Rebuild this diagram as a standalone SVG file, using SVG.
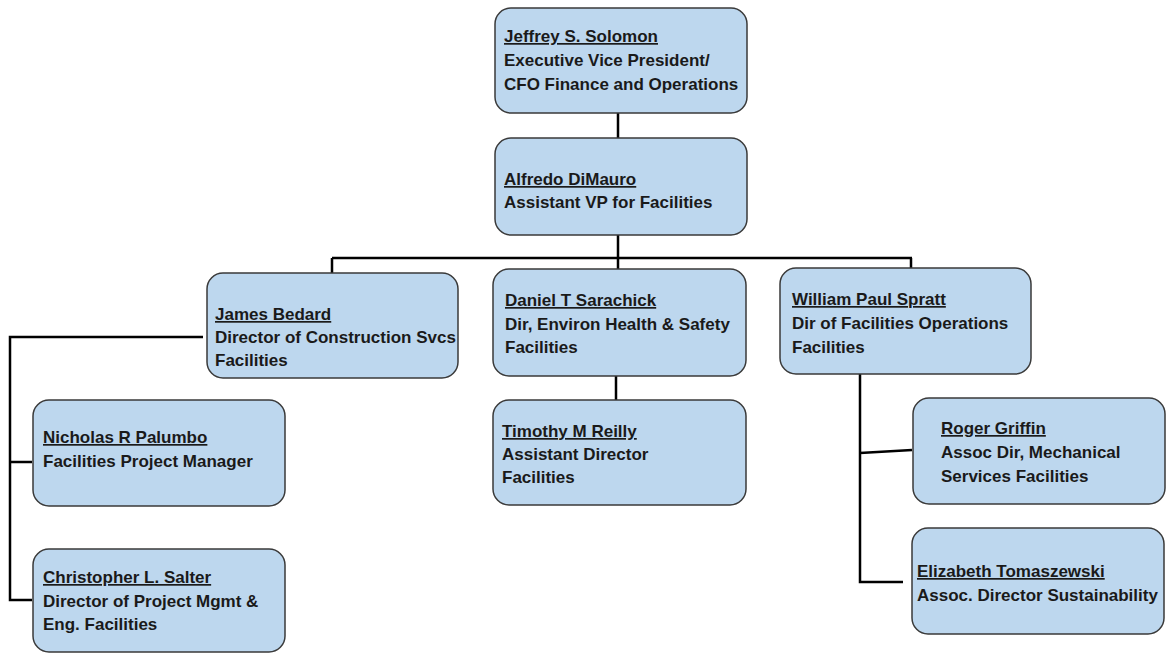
<svg xmlns="http://www.w3.org/2000/svg" width="1167" height="653" viewBox="0 0 1167 653">
<style>
.box{fill:#BDD7EE;stroke:#3a3a3a;stroke-width:1.5}
.t{font-family:"Liberation Sans",Arial,sans-serif;font-size:17px;font-weight:bold;fill:#1a1a1a}
.n{text-decoration:underline}
.c{stroke:#000;stroke-width:2.5;fill:none}
</style>
<rect width="1167" height="653" fill="#fff"/>
<g id="connectors">
<path class="c" d="M618 113V138M618 235V258M332 258H912M332 258V273M618 258V269M911 258V268"/>
<path class="c" d="M203 337H10V600H32M10 462H32"/>
<path class="c" d="M616 376V400"/>
<path class="c" d="M860 374V582H903M860 453L912 450"/>
</g>
<g id="jeffrey"><rect class="box" x="495" y="8" width="252" height="105" rx="16"/>
<text class="t" x="504"><tspan class="n" y="42">Jeffrey S. Solomon</tspan><tspan x="504" y="66">Executive Vice President/</tspan><tspan x="504" y="90">CFO Finance and Operations</tspan></text></g>
<g id="alfredo"><rect class="box" x="495" y="138" width="252" height="97" rx="16"/>
<text class="t" x="504"><tspan class="n" y="185">Alfredo DiMauro</tspan><tspan x="504" y="208">Assistant VP for Facilities</tspan></text></g>
<g id="james"><rect class="box" x="207" y="273" width="251" height="105" rx="16"/>
<text class="t" x="215"><tspan class="n" y="320">James Bedard</tspan><tspan x="215" y="343">Director of Construction Svcs</tspan><tspan x="215" y="366">Facilities</tspan></text></g>
<g id="daniel"><rect class="box" x="493" y="269" width="253" height="107" rx="16"/>
<text class="t" x="505"><tspan class="n" y="306">Daniel T Sarachick</tspan><tspan x="505" y="330">Dir, Environ Health &amp; Safety</tspan><tspan x="505" y="353">Facilities</tspan></text></g>
<g id="william"><rect class="box" x="780" y="268" width="251" height="106" rx="16"/>
<text class="t" x="792"><tspan class="n" y="305">William Paul Spratt</tspan><tspan x="792" y="329">Dir of Facilities Operations</tspan><tspan x="792" y="353">Facilities</tspan></text></g>
<g id="nicholas"><rect class="box" x="33" y="400" width="252" height="106" rx="16"/>
<text class="t" x="43"><tspan class="n" y="443">Nicholas R Palumbo</tspan><tspan x="43" y="467">Facilities Project Manager</tspan></text></g>
<g id="christopher"><rect class="box" x="33" y="549" width="252" height="103" rx="16"/>
<text class="t" x="43"><tspan class="n" y="583">Christopher L. Salter</tspan><tspan x="43" y="607">Director of Project Mgmt &amp;</tspan><tspan x="43" y="630">Eng. Facilities</tspan></text></g>
<g id="timothy"><rect class="box" x="493" y="400" width="253" height="105" rx="16"/>
<text class="t" x="502"><tspan class="n" y="437">Timothy M Reilly</tspan><tspan x="502" y="460">Assistant Director</tspan><tspan x="502" y="483">Facilities</tspan></text></g>
<g id="roger"><rect class="box" x="913" y="398" width="252" height="106" rx="16"/>
<text class="t" x="941"><tspan class="n" y="434">Roger Griffin</tspan><tspan x="941" y="458">Assoc Dir, Mechanical</tspan><tspan x="941" y="482">Services Facilities</tspan></text></g>
<g id="elizabeth"><rect class="box" x="912" y="528" width="252" height="106" rx="16"/>
<text class="t" x="917"><tspan class="n" y="577">Elizabeth Tomaszewski</tspan><tspan x="917" y="601">Assoc. Director Sustainability</tspan></text></g>
</svg>
